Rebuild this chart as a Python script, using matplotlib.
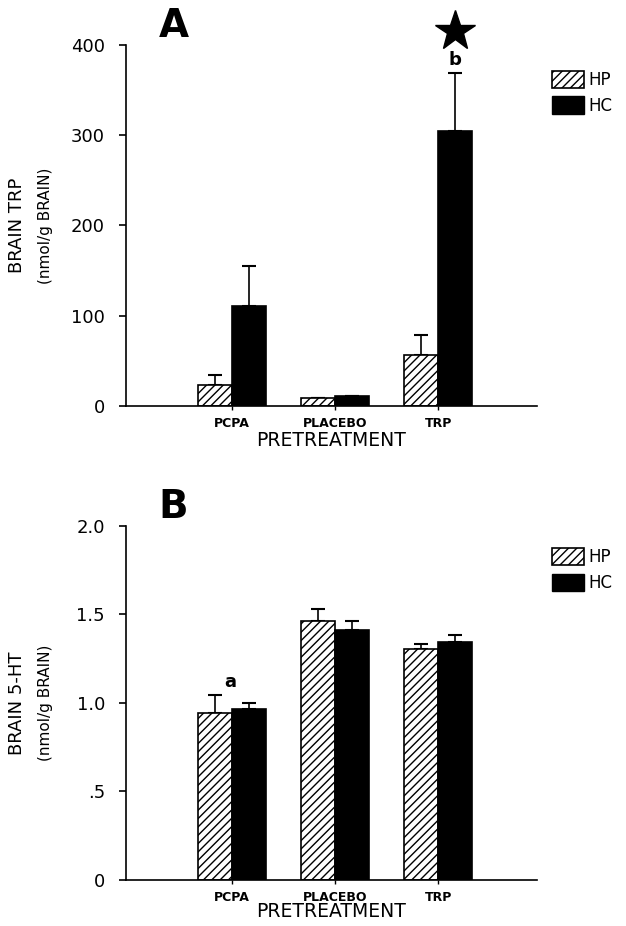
import numpy as np
import matplotlib
matplotlib.use("Agg")
import matplotlib.pyplot as plt
from matplotlib.patches import Patch

groups = ["PCPA", "PLACEBO", "TRP"]
series = ["HP", "HC"]

trp_hp = [23, 9, 57]
trp_hp_err = [11, 0, 22]
trp_hc = [111, 11, 305]
trp_hc_err = [44, 0, 64]

ht_hp = [0.94, 1.46, 1.305]
ht_hp_err = [0.105, 0.07, 0.03]
ht_hc = [0.963, 1.413, 1.344]
ht_hc_err = [0.037, 0.05, 0.037]

plt.rcParams['font.family'] = ['DejaVu Sans']
plt.rcParams['hatch.linewidth'] = 1.0

fig = plt.figure(figsize=(6.26, 9.26), dpi=100)
axA = fig.add_axes([0.201, 0.5616, 0.657, 0.3898])
axB = fig.add_axes([0.201, 0.0500, 0.657, 0.3820])

x = np.arange(len(groups))
w = 0.33


def panel(ax, hp, hp_err, hc, hc_err, ylim, yticks, yticklabels, ylab1, letter, leg_y, xpad):
    z = np.zeros(len(hp))
    ax.bar(x - w / 2, hp, w, color='white', edgecolor='black', hatch='////',
           linewidth=1.2, zorder=2)
    ax.bar(x + w / 2, hc, w, color='black', edgecolor='black', linewidth=1.2,
           zorder=2)
    ax.errorbar(x - w / 2, hp, yerr=[z, hp_err], fmt='none', ecolor='black',
                elinewidth=1.2, capsize=5, capthick=1.5, zorder=1)
    ax.errorbar(x + w / 2, hc, yerr=[z, hc_err], fmt='none', ecolor='black',
                elinewidth=1.2, capsize=5, capthick=1.5, zorder=1)
    ax.set_xlim(-1.03, 2.96)
    ax.set_ylim(*ylim)
    ax.set_yticks(yticks)
    ax.set_yticklabels(yticklabels, fontsize=13)
    ax.set_xticks(x)
    ax.set_xticklabels(groups, fontsize=9, fontweight='bold')
    for s in ['top', 'right']:
        ax.spines[s].set_visible(False)
    ax.spines['left'].set_linewidth(1.2)
    ax.spines['bottom'].set_linewidth(1.2)
    ax.tick_params(axis='y', direction='out', length=5, width=1.2, pad=10)
    ax.tick_params(axis='x', direction='out', length=3, width=1.0, pad=5)
    ax.set_xlabel("PRETREATMENT", fontsize=13.5, labelpad=xpad)
    ax.text(-0.265, 0.5, ylab1, transform=ax.transAxes, rotation=90,
            fontsize=13, ha='center', va='center')
    ax.text(-0.195, 0.5, "(nmol/g BRAIN)", transform=ax.transAxes,
            rotation=90, fontsize=11, ha='center', va='center')
    ax.text(0.08, 1.0, letter, transform=ax.transAxes, fontsize=28,
            fontweight='bold', va='bottom', ha='left')
    handles = [Patch(facecolor='white', edgecolor='black', hatch='////',
                     linewidth=1.2),
               Patch(facecolor='black', edgecolor='black')]
    ax.legend(handles, series, loc='upper left', bbox_to_anchor=(1.0, leg_y),
              frameon=False, fontsize=12, handlelength=1.9, handleheight=1.2,
              handletextpad=0.3, labelspacing=0.45)


panel(axA, trp_hp, trp_hp_err, trp_hc, trp_hc_err, (0, 400),
      [0, 100, 200, 300, 400], ["0", "100", "200", "300", "400"],
      "BRAIN TRP", "A", 0.97, 1)
axA.text(x[2] + w / 2, trp_hc[2] + trp_hc_err[2] + 4, "b", ha='center',
         va='bottom', fontsize=13, fontweight='bold')
axA.plot([x[2] + w / 2], [416], marker='*', color='black', markersize=30,
         clip_on=False)

panel(axB, ht_hp, ht_hp_err, ht_hc, ht_hc_err, (0, 2.0),
      [0, 0.5, 1.0, 1.5, 2.0], ["0", ".5", "1.0", "1.5", "2.0"],
      "BRAIN 5-HT", "B", 0.98, -1)
axB.text(x[0] - 0.02, 1.065, "a", ha='center', va='bottom',
         fontsize=13, fontweight='bold')

fig.savefig("out.png", dpi=100)
